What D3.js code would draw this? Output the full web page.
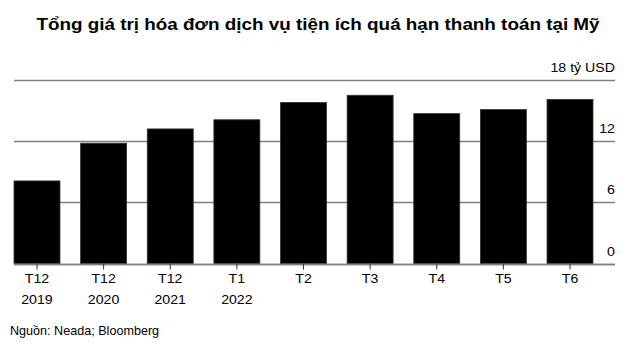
<!DOCTYPE html>
<html>
<head>
<meta charset="utf-8">
<script src="https://cdn.jsdelivr.net/npm/d3@7"></script>
<style>
  body { margin: 0; background: #fff; }
  svg { display: block; font-family: "Liberation Sans", Arial, sans-serif; }
</style>
</head>
<body>
<div id="chart"><svg width="640" height="354"></svg></div>
<script>
const months = ['T12', 'T12', 'T12', 'T1', 'T2', 'T3', 'T4', 'T5', 'T6']
const years = ['2019', '2020', '2021', '2022', '', '', '', '', '']
const overdue = [8.1, 11.8, 13.2, 14.1, 15.8, 16.5, 14.7, 15.1, 16.1]
const yTicks = [0, 6, 12, 18]

const svg = d3.select('#chart svg')

// helper: text, a bit stretched sideways like in the picture
const label = (g, x, y, str, size, anchor, weight, sx) =>
    g.append('text')
        .attr('transform', `translate(${x},${y}) scale(${sx || 1.1},1)`)
        .attr('text-anchor', anchor)
        .style('font-size', size + 'px')
        .style('font-weight', weight || 400)
        .attr('fill', '#000')
        .text(str)

const x = d3.scaleBand()
    .domain(d3.range(months.length))
    .range([14, 593])
    .paddingInner(0.31)
    .paddingOuter(0)

const y = d3.scaleLinear()
    .domain([0, 18])
    .range([263.5, 80])

// gridlines
svg.append('g')
    .selectAll('line')
    .data(yTicks)
    .join('line')
    .attr('x1', 14)
    .attr('x2', 615)
    .attr('y1', d => Math.round(y(d)) + 0.5)
    .attr('y2', d => Math.round(y(d)) + 0.5)
    .attr('stroke', '#808080')
    .attr('stroke-width', 1.5)

// bars
svg.append('g')
    .selectAll('rect')
    .data(overdue)
    .join('rect')
    .attr('x', (d, i) => x(i))
    .attr('y', d => y(d))
    .attr('width', x.bandwidth())
    .attr('height', d => y(0) - y(d))
    .attr('fill', '#000')
    .attr('stroke', '#333')
    .attr('stroke-width', 0.8)

// baseline over the bars
svg.append('line')
    .attr('x1', 14).attr('x2', 615)
    .attr('y1', Math.round(y(0)) + 0.5).attr('y2', Math.round(y(0)) + 0.5)
    .attr('stroke', '#808080')
    .attr('stroke-width', 1.5)

// ticks under the bars
svg.append('g')
    .selectAll('line')
    .data(months)
    .join('line')
    .attr('x1', (d, i) => x(i) + x.bandwidth() / 2)
    .attr('x2', (d, i) => x(i) + x.bandwidth() / 2)
    .attr('y1', y(0))
    .attr('y2', y(0) + 6)
    .attr('stroke', '#333')
    .attr('stroke-width', 1)

// y labels
const yl = svg.append('g')
yTicks.forEach(t => {
    label(yl, 615, y(t) - 8, t === 18 ? '18 tỷ USD' : t, 13, 'end', 400, 1.09)
})

// x labels
const xl = svg.append('g')
months.forEach((m, i) => {
    const cx = x(i) + x.bandwidth() / 2
    label(xl, cx, 282.5, m, 13, 'middle', 400, 1.09)
    if (years[i]) label(xl, cx, 303.5, years[i], 13, 'middle', 400, 1.09)
})

// title
label(svg, 318, 29.5, 'Tổng giá trị hóa đơn dịch vụ tiện ích quá hạn thanh toán tại Mỹ', 17, 'middle', 700, 1.11)

// source
label(svg, 10, 335, 'Nguồn: Neada; Bloomberg', 12, 'start', 400, 1.05)
</script>
</body>
</html>
